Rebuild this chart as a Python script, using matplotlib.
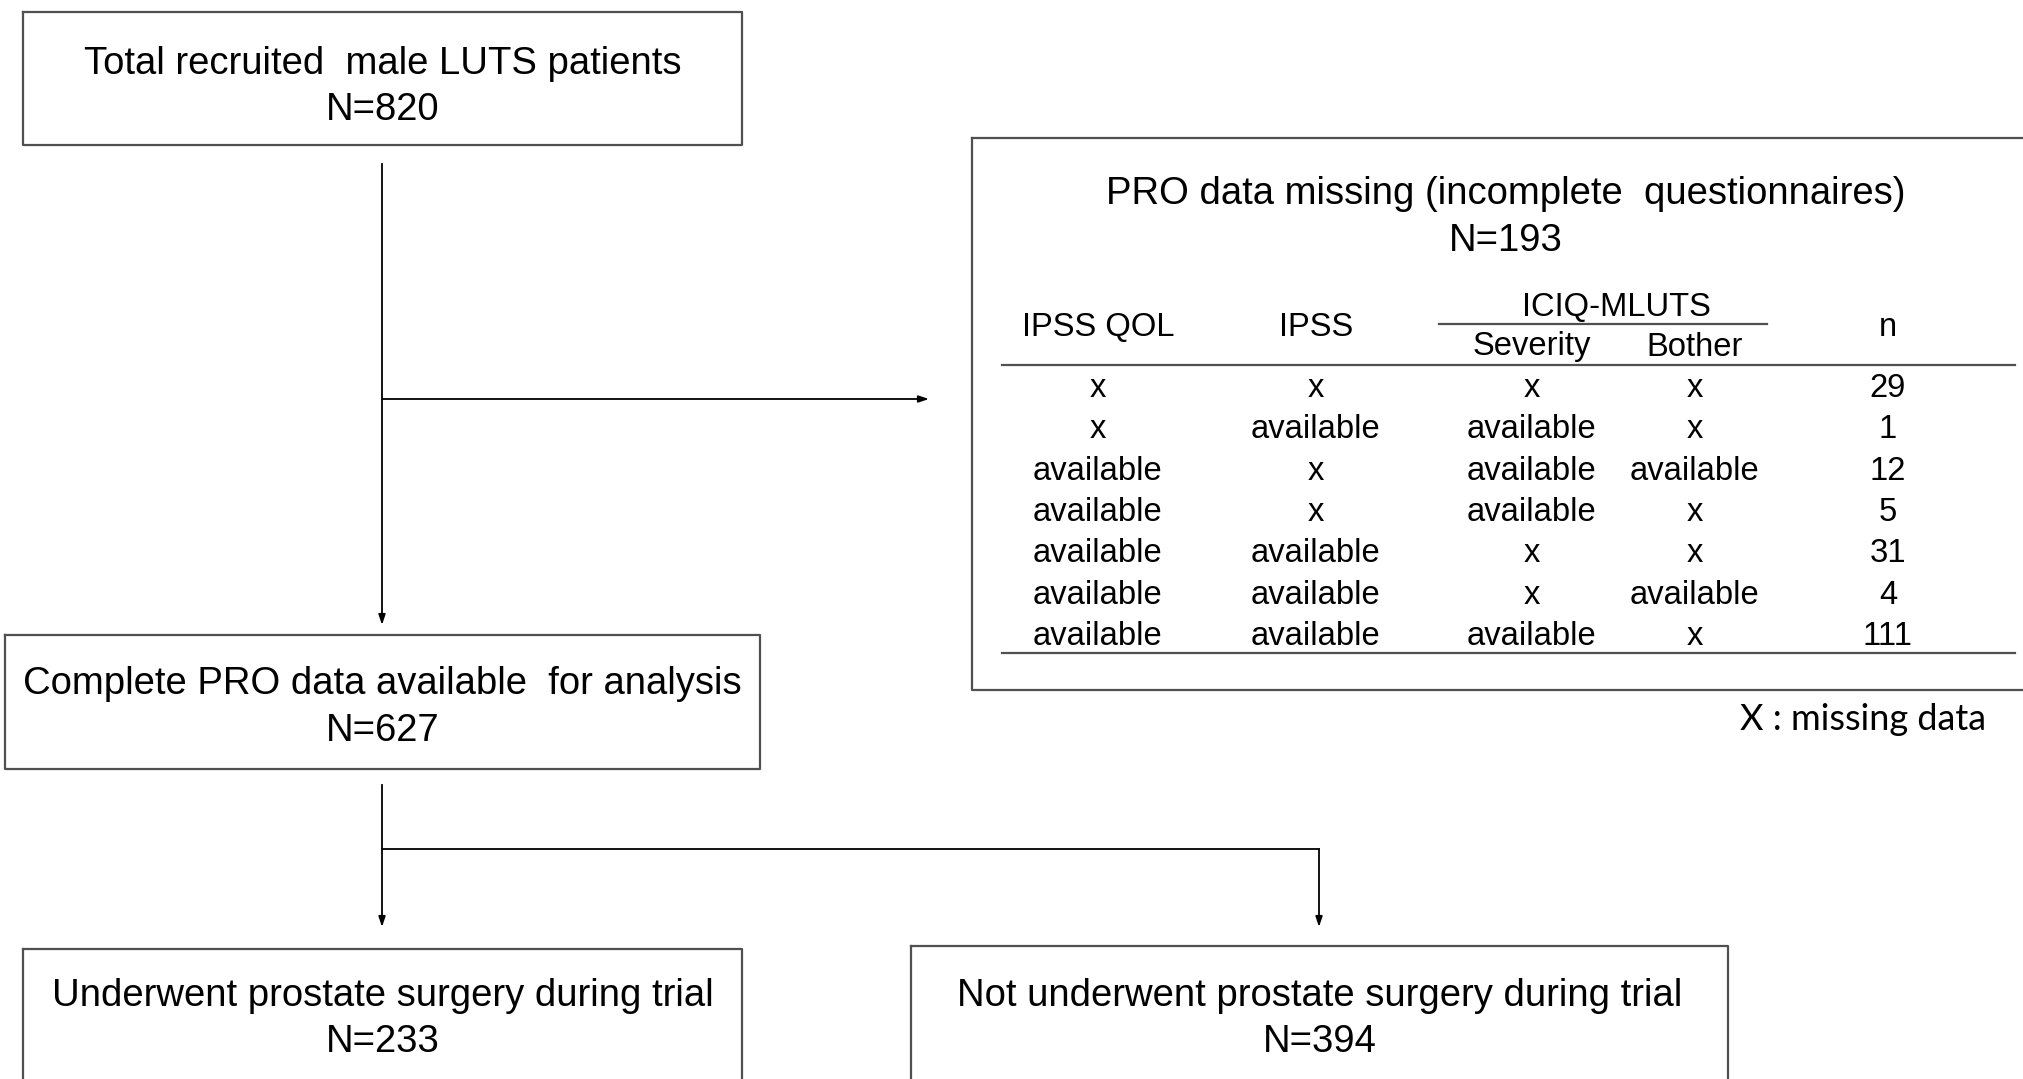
import matplotlib.pyplot as plt
from matplotlib import font_manager

# flowchart counts
n_total = 820
n_missing = 193
n_complete = 627
n_surgery = 233
n_no_surgery = 394

# missing-data table
col_qol = ["x", "x", "available", "available", "available", "available", "available"]
col_ipss = ["x", "available", "x", "x", "available", "available", "available"]
col_severity = ["x", "available", "available", "available", "x", "x", "available"]
col_bother = ["x", "x", "available", "x", "x", "available", "x"]
col_n = [29, 1, 12, 5, 31, 4, 111]

nomes = {f.name for f in font_manager.fontManager.ttflist}
if "Liberation Sans Narrow" in nomes:
    FONT = "Liberation Sans Narrow"
    FS_BOX = 32
    FS = 27.5
else:
    FONT = "Liberation Sans"
    FS_BOX = 27.5
    FS = 23.6
EDGE = "#505050"

fig = plt.figure(figsize=(20.24, 10.79), dpi=100)
ax = fig.add_axes([0, 0, 1, 1])
ax.set_xlim(0, 2024)
ax.set_ylim(1079, 0)
ax.axis("off")


def caixa(x0, y0, x1, y1, linhas, cx=None):
    ax.plot([x0, x1, x1, x0, x0], [y0, y0, y1, y1, y0], c=EDGE, lw=1.6, clip_on=False)
    if cx is None:
        cx = (x0 + x1) / 2
    for texto, y in linhas:
        ax.text(cx, y, texto, ha="center", va="center", fontsize=FS_BOX, family=FONT)


def seta(x0, y0, x1, y1):
    ax.annotate("", xy=(x1, y1), xytext=(x0, y0),
                arrowprops=dict(arrowstyle="-|>,head_length=0.6,head_width=0.2",
                                color="black", lw=1.3, shrinkA=0, shrinkB=0))


def linha(xs, ys):
    ax.plot(xs, ys, c="black", lw=1.3)


def texto(x, y, s, fs=None):
    ax.text(x, y, s, ha="center", va="center", fontsize=fs or FS, family=FONT)


# boxes
caixa(23, 12, 742, 145, [("Total recruited  male LUTS patients", 64), (f"N={n_total}", 110)])
caixa(5, 635, 760, 769, [("Complete PRO data available  for analysis", 684), (f"N={n_complete}", 731)])
caixa(23, 949, 742, 1100, [("Underwent prostate surgery during trial", 996), (f"N={n_surgery}", 1042)])
caixa(911, 946, 1728, 1100, [("Not underwent prostate surgery during trial", 996), (f"N={n_no_surgery}", 1042)])
caixa(972, 138, 2040, 690, [("PRO data missing (incomplete  questionnaires)", 194), (f"N={n_missing}", 241)], cx=1506)

# connectors
linha([382, 382], [164, 399])
seta(382, 399, 382, 625)
seta(382, 399, 929, 399)
linha([382, 382], [785, 849])
linha([382, 1319], [849, 849])
seta(382, 849, 382, 927)
seta(1319, 849, 1319, 927)

# table
xs = [1098, 1316, 1532, 1695, 1888]
texto(xs[0], 327, "IPSS QOL")
texto(xs[1], 327, "IPSS")
texto((xs[2] + xs[3]) / 2 + 3, 307, "ICIQ-MLUTS")
ax.plot([1439, 1767], [324, 324], c=EDGE, lw=1.6)
texto(xs[2], 347, "Severity")
texto(xs[3], 347, "Bother")
texto(xs[4], 327, "n")
ax.plot([1002, 2015], [365, 365], c=EDGE, lw=1.6)
ax.plot([1002, 2015], [653, 653], c=EDGE, lw=1.6)

y_linha = 388.5
for i in range(len(col_n)):
    y = y_linha + i * 41.3
    for x, v in zip(xs, [col_qol[i], col_ipss[i], col_severity[i], col_bother[i], col_n[i]]):
        texto(x, y, str(v))

ax.text(1863, 720, "X : missing data", ha="center", va="center", fontsize=26, family="Lato")

fig.savefig("out.png", dpi=100)
